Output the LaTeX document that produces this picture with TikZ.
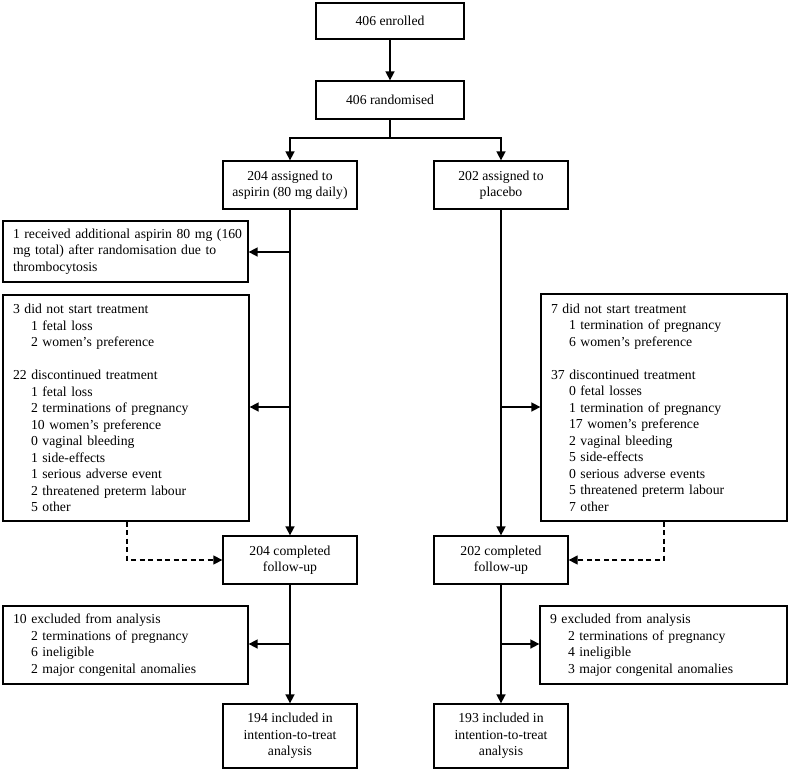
\documentclass[tikz,border=0pt]{standalone}
\usepackage{fontspec}
\setmainfont{Liberation Serif}
\usetikzlibrary{arrows.meta,calc}
\newcommand{\fs}{\fontsize{13.7pt}{16.5pt}\selectfont}
\newcommand{\ind}{\hspace*{18pt}}
\begin{document}
\begin{tikzpicture}[x=1pt,y=-1pt,
  box/.style={draw, line width=1.3pt, inner sep=0pt, align=center, font=\fs},
  lbox/.style={draw, line width=1.3pt, inner xsep=10pt, inner ysep=0pt, align=left, font=\fs},
  conn/.style={line width=1.6pt, -{Triangle[length=9pt,width=9pt]}},
  plain/.style={line width=1.6pt},
  dconn/.style={line width=1.3pt, dash pattern=on 5pt off 3.5pt, -{Triangle[length=9pt,width=9pt]}}]
\useasboundingbox (0,0) rectangle (789,771);
% top
\node[box, minimum width=148pt, minimum height=36pt] (enr) at (390,21) {406 enrolled};
\node[box, minimum width=148pt, minimum height=38pt] (rand) at (390,100) {406 randomised};
\node[box, minimum width=134pt, minimum height=48pt] (asp) at (290,185) {204 assigned to\\aspirin (80 mg daily)};
\node[box, minimum width=134pt, minimum height=48pt] (plc) at (501,185) {202 assigned to\\placebo};
% side boxes
\node[lbox, text width=225pt, minimum height=61pt] (recv) at (125.5,251.5)
 {\mbox{1 received additional aspirin 80 mg (160}\\\mbox{mg total) after randomisation due to}\\thrombocytosis};
\node[lbox, text width=226pt, minimum height=226pt] (lbig) at (126,408)
 {3 did not start treatment\\
  \ind 1 fetal loss\\
  \ind 2 women’s preference\\[16.5pt]
  22 discontinued treatment\\
  \ind 1 fetal loss\\
  \ind 2 terminations of pregnancy\\
  \ind 10 women’s preference\\
  \ind 0 vaginal bleeding\\
  \ind 1 side-effects\\
  \ind 1 serious adverse event\\
  \ind 2 threatened preterm labour\\
  \ind 5 other};
\node[lbox, text width=226pt, minimum height=227pt] (rbig) at (664,407.5)
 {7 did not start treatment\\
  \ind 1 termination of pregnancy\\
  \ind 6 women’s preference\\[16.5pt]
  37 discontinued treatment\\
  \ind 0 fetal losses\\
  \ind 1 termination of pregnancy\\
  \ind 17 women’s preference\\
  \ind 2 vaginal bleeding\\
  \ind 5 side-effects\\
  \ind 0 serious adverse events\\
  \ind 5 threatened preterm labour\\
  \ind 7 other};
\node[box, minimum width=134pt, minimum height=48pt] (compL) at (290,560) {204 completed\\follow-up};
\node[box, minimum width=134pt, minimum height=48pt] (compR) at (501,560) {202 completed\\follow-up};
\node[lbox, text width=225pt, minimum height=78pt] (exL) at (125.5,645)
 {10 excluded from analysis\\
  \ind 2 terminations of pregnancy\\
  \ind 6 ineligible\\
  \ind 2 major congenital anomalies};
\node[lbox, text width=227pt, minimum height=78pt] (exR) at (663.5,645)
 {9 excluded from analysis\\
  \ind 2 terminations of pregnancy\\
  \ind 4 ineligible\\
  \ind 3 major congenital anomalies};
\node[box, minimum width=134pt, minimum height=64pt] (incL) at (290,736) {194 included in\\intention-to-treat\\analysis};
\node[box, minimum width=134pt, minimum height=64pt] (incR) at (501,736) {193 included in\\intention-to-treat\\analysis};
% connectors
\coordinate (sp) at (390,138);
\draw[conn] (enr) -- (rand);
\draw[plain] (rand.south) -- (sp);
\draw[conn] (sp) -| (asp.north);
\draw[conn] (sp) -| (plc.north);
\draw[conn] (asp) -- (compL);
\draw[conn] (plc) -- (compR);
\coordinate (b1) at (290,252);
\coordinate (b2) at (290,407);
\coordinate (b3) at (501,407);
\draw[conn] (b1) -- (b1 -| recv.east);
\draw[conn] (b2) -- (b2 -| lbig.east);
\draw[conn] (b3) -- (b3 -| rbig.west);
\draw[conn] (compL) -- (incL);
\draw[conn] (compR) -- (incR);
\coordinate (b4) at (290,644);
\coordinate (b5) at (501,644);
\draw[conn] (b4) -- (b4 -| exL.east);
\draw[conn] (b5) -- (b5 -| exR.west);
\draw[dconn] ([xshift=1pt]lbig.south) |- (compL.west);
\draw[dconn] (rbig.south) |- (compR.east);
\end{tikzpicture}
\end{document}
